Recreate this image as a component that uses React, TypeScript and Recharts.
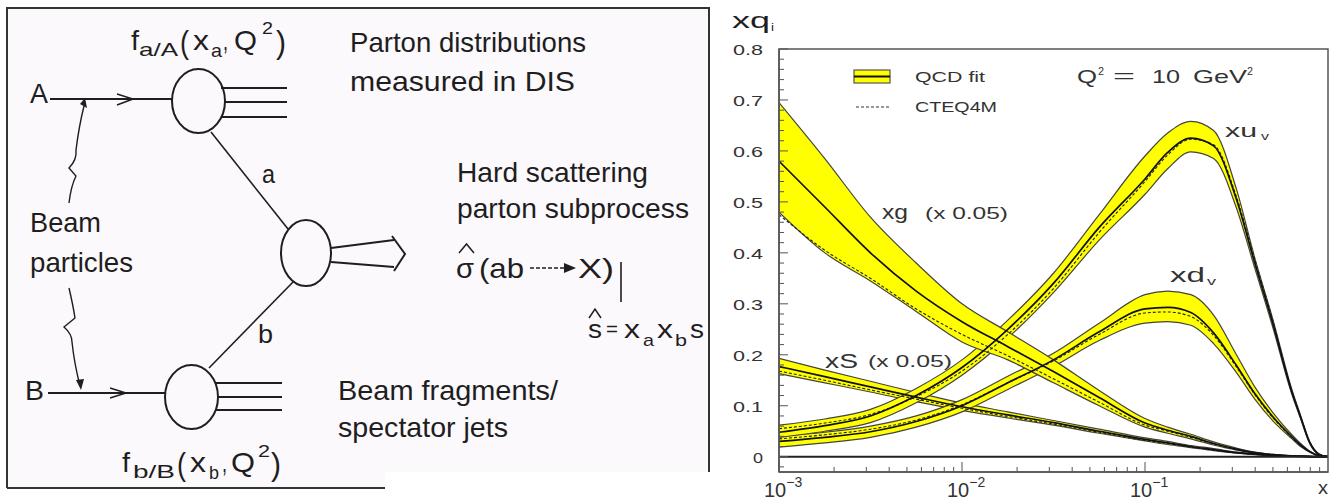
import React from "react";
import {
  ComposedChart,
  Area,
  Line,
  XAxis,
  YAxis,
  ReferenceLine,
  Legend,
} from "recharts";

const FONT = '"Liberation Sans", Arial, Helvetica, sans-serif';
const INK = "#1e1e1e";
const AXIS = "#555";
const YELLOW = "#ffff00";

// x samples (log axis), denser around the valence peaks
const xValues = [
  0.001, 0.00178, 0.00316, 0.00562, 0.01, 0.0178, 0.0316, 0.0562, 0.1, 0.133,
  0.178, 0.237, 0.316, 0.398, 0.501, 0.631, 0.708, 0.794, 0.891, 1,
];

// gluon, xg (x 0.05)
const xgHigh = [0.695, 0.585, 0.47, 0.38, 0.3, 0.245, 0.19, 0.13, 0.075, 0.058, 0.044, 0.029, 0.017, 0.009, 0.0045, 0.002, 0.001, 0.0005, 0, 0];
const xgFit = [0.58, 0.49, 0.4, 0.325, 0.265, 0.216, 0.167, 0.116, 0.066, 0.052, 0.04, 0.026, 0.015, 0.008, 0.004, 0.0015, 0.001, 0.0005, 0, 0];
const xgLow = [0.48, 0.4, 0.345, 0.285, 0.225, 0.19, 0.145, 0.1, 0.058, 0.046, 0.035, 0.023, 0.013, 0.007, 0.0035, 0.001, 0.0008, 0.0004, 0, 0];
const xgCteq = [0.475, 0.405, 0.35, 0.29, 0.24, 0.198, 0.153, 0.107, 0.062, 0.05, 0.038, 0.025, 0.014, 0.008, 0.004, 0.0015, 0.001, 0.0005, 0, 0];

// sea, xS (x 0.05)
const xsHigh = [0.193, 0.17, 0.148, 0.126, 0.105, 0.088, 0.071, 0.054, 0.037, 0.03, 0.022, 0.016, 0.009, 0.006, 0.003, 0.0012, 0.0006, 0.0003, 0, 0];
const xsFit = [0.177, 0.157, 0.137, 0.117, 0.098, 0.082, 0.067, 0.05, 0.034, 0.027, 0.02, 0.014, 0.008, 0.005, 0.0025, 0.001, 0.0005, 0.0002, 0, 0];
const xsLow = [0.163, 0.145, 0.127, 0.108, 0.091, 0.076, 0.062, 0.046, 0.031, 0.024, 0.018, 0.012, 0.007, 0.004, 0.002, 0.0008, 0.0004, 0.0002, 0, 0];
const xsCteq = [0.168, 0.15, 0.131, 0.113, 0.095, 0.079, 0.064, 0.048, 0.032, 0.026, 0.019, 0.013, 0.0075, 0.0045, 0.002, 0.001, 0.0005, 0.0002, 0, 0];

// valence up, xu_v
const xuvHigh = [0.062, 0.074, 0.093, 0.134, 0.19, 0.268, 0.36, 0.475, 0.59, 0.635, 0.658, 0.64, 0.525, 0.39, 0.268, 0.135, 0.081, 0.03, 0.006, 0];
const xuvFit = [0.048, 0.061, 0.08, 0.12, 0.175, 0.25, 0.34, 0.45, 0.545, 0.597, 0.625, 0.61, 0.505, 0.38, 0.26, 0.13, 0.078, 0.028, 0.005, 0];
const xuvLow = [0.038, 0.05, 0.067, 0.106, 0.16, 0.233, 0.322, 0.425, 0.515, 0.565, 0.598, 0.585, 0.488, 0.37, 0.252, 0.125, 0.075, 0.026, 0.004, 0];
const xuvCteq = [0.055, 0.066, 0.083, 0.118, 0.168, 0.24, 0.33, 0.44, 0.54, 0.592, 0.623, 0.612, 0.51, 0.387, 0.265, 0.132, 0.079, 0.029, 0.005, 0];

// valence down, xd_v
const xdvHigh = [0.04, 0.048, 0.06, 0.08, 0.112, 0.158, 0.203, 0.262, 0.318, 0.325, 0.318, 0.278, 0.2, 0.137, 0.086, 0.044, 0.026, 0.011, 0.0025, 0];
const xdvFit = [0.03, 0.038, 0.049, 0.069, 0.1, 0.145, 0.19, 0.245, 0.29, 0.293, 0.283, 0.243, 0.179, 0.124, 0.078, 0.04, 0.023, 0.01, 0.002, 0];
const xdvLow = [0.019, 0.027, 0.038, 0.058, 0.088, 0.132, 0.177, 0.228, 0.262, 0.265, 0.258, 0.222, 0.165, 0.113, 0.07, 0.036, 0.02, 0.009, 0.0015, 0];
const xdvCteq = [0.035, 0.043, 0.054, 0.072, 0.102, 0.145, 0.188, 0.24, 0.282, 0.284, 0.275, 0.238, 0.176, 0.122, 0.076, 0.039, 0.022, 0.01, 0.002, 0];

const xTicks = [
  0.001, 0.002, 0.003, 0.004, 0.005, 0.006, 0.007, 0.008, 0.009,
  0.01, 0.02, 0.03, 0.04, 0.05, 0.06, 0.07, 0.08, 0.09,
  0.1, 0.2, 0.3, 0.4, 0.5, 0.6, 0.7, 0.8, 0.9,
];
const yTicks = [
  -0.02, 0, 0.02, 0.04, 0.06, 0.08, 0.1, 0.12, 0.14, 0.16, 0.18, 0.2, 0.22,
  0.24, 0.26, 0.28, 0.3, 0.32, 0.34, 0.36, 0.38, 0.4, 0.42, 0.44, 0.46, 0.48,
  0.5, 0.52, 0.54, 0.56, 0.58, 0.6, 0.62, 0.64, 0.66, 0.68, 0.7, 0.72, 0.74,
  0.76, 0.78, 0.8,
];
const X_MIN = 0.001;
const X_MAX = 1;
const Y_MIN = -0.03;
const Y_MAX = 0.8;

const rows = xValues.map((x, i) => ({
  x,
  xgBand: [xgLow[i], xgHigh[i]],
  xgFit: xgFit[i],
  xgCteq: xgCteq[i],
  xsBand: [xsLow[i], xsHigh[i]],
  xsFit: xsFit[i],
  xsCteq: xsCteq[i],
  xuvBand: [xuvLow[i], xuvHigh[i]],
  xuvFit: xuvFit[i],
  xuvCteq: xuvCteq[i],
  xdvBand: [xdvLow[i], xdvHigh[i]],
  xdvFit: xdvFit[i],
  xdvCteq: xdvCteq[i],
}));

const bands = ["xsBand", "xdvBand", "xuvBand", "xgBand"];
const fits = ["xsFit", "xdvFit", "xuvFit", "xgFit"];
const cteqs = ["xsCteq", "xdvCteq", "xuvCteq", "xgCteq"];

// chart box on the page
const CHART_LEFT = 700;
const CHART_W = 633;
const CHART_H = 500;
const MARGIN = { top: 49, right: 5, bottom: 0, left: 0 };
const Y_AXIS_W = 79;
const X_AXIS_H = 28;

const frameLine = { stroke: AXIS, strokeWidth: 1.5 };

// plain string stretched to a measured width
function Txt({ x, y, size, len, fill = INK, children }: any) {
  return (
    <text
      x={x}
      y={y}
      fontSize={size}
      fill={fill}
      fontFamily={FONT}
      textLength={len}
      lengthAdjust="spacingAndGlyphs"
    >
      {children}
    </text>
  );
}

const YTick = (props: any) => {
  const { x, y, payload } = props;
  const v = payload.value;
  const major = Math.abs(v * 10 - Math.round(v * 10)) < 1e-6;
  const label = v === 0 ? "0" : v.toFixed(1);
  return (
    <g>
      <line x1={x} x2={x + (major ? 9 : 5)} y1={y} y2={y} stroke={AXIS} strokeWidth={1} />
      {major && (
        <Txt x={v === 0 ? x - 26 : x - 46} y={y + 6} size={15} len={v === 0 ? 10 : 30} fill="#333">
          {label}
        </Txt>
      )}
    </g>
  );
};

const XTick = (props: any) => {
  const { x, y, payload } = props;
  const v = payload.value;
  const e = Math.log10(v);
  const major = Math.abs(e - Math.round(e)) < 1e-6;
  return (
    <g>
      <line x1={x} x2={x} y1={y} y2={y - (major ? 10 : 5)} stroke={AXIS} strokeWidth={1} />
      {major && (
        <text x={x - 15} y={y + 25} fontSize={20} fill="#333" fontFamily={FONT}>
          10
          <tspan fontSize={14} dy={-10}>
            {"\u2212" + Math.round(-e)}
          </tspan>
        </text>
      )}
    </g>
  );
};

const renderLegend = () => (
  <svg width={170} height={52} style={{ display: "block" }}>
    <rect x={4} y={4} width={36} height={13} fill={YELLOW} stroke={AXIS} strokeWidth={1.2} />
    <line x1={4} x2={40} y1={10.5} y2={10.5} stroke="#111" strokeWidth={2} />
    <Txt x={65} y={16} size={14} len={70} fill="#333">QCD fit</Txt>
    <line x1={6} x2={40} y1={41} y2={41} stroke="#333" strokeWidth={1} strokeDasharray="3 2" />
    <Txt x={65} y={46} size={14} len={82} fill="#333">CTEQ4M</Txt>
  </svg>
);

function Diagram() {
  const line = { stroke: INK, strokeWidth: 2, fill: "none" };
  return (
    <g>
      <path d="M7 8 H709 V472 H385 V488 H7 Z" fill="#fcf9fc" />
      <path d="M7 488 L7 8 L709 8 L709 472" stroke="#333" strokeWidth={2} fill="none" />
      <line x1={7} x2={385} y1={488} y2={488} stroke="#333" strokeWidth={2} />

      {/* beams and arrows */}
      <line x1={50} x2={172} y1={99} y2={99} {...line} />
      <path d="M117 94 L133 99 L117 105" {...line} strokeWidth={1.5} />
      <line x1={48} x2={165} y1={393} y2={393} {...line} />
      <path d="M110 388 L126 393 L110 398" {...line} strokeWidth={1.5} />

      {/* blobs */}
      <ellipse cx={198.5} cy={101} rx={26.5} ry={32} {...line} />
      <ellipse cx={306} cy={253} rx={25} ry={33} {...line} />
      <ellipse cx={191.5} cy={397} rx={26.5} ry={32} {...line} />

      {/* spectators */}
      <line x1={221} x2={287} y1={88} y2={88} {...line} />
      <line x1={225} x2={287} y1={102} y2={102} {...line} />
      <line x1={221} x2={287} y1={117} y2={117} {...line} />
      <line x1={216} x2={282} y1={383} y2={383} {...line} />
      <line x1={218} x2={282} y1={397} y2={397} {...line} />
      <line x1={216} x2={282} y1={410} y2={410} {...line} />

      {/* partons */}
      <line x1={211} y1={132} x2={288} y2={229} {...line} strokeWidth={1.6} />
      <line x1={294} y1={281} x2={209} y2={368} {...line} strokeWidth={1.6} />

      {/* outgoing X */}
      <line x1={331} y1={248} x2={394} y2={240} {...line} />
      <line x1={331} y1={262} x2={394} y2={267} {...line} />
      <path d="M392 236 L405 254 L394 271" {...line} />

      {/* wavy pointers */}
      <path d="M69 203 Q71 186 76 176 L69 168 Q77 160 76 150 Q79 126 84 106" {...line} strokeWidth={1.4} />
      <path d="M80 104 L85 98 L87 108 Z" fill={INK} />
      <path d="M69 288 Q73 305 75 318 L64 327 Q72 334 72 342 Q74 362 80 386" {...line} strokeWidth={1.4} />
      <path d="M76 380 L81 390 L84 379 Z" fill={INK} />

      {/* labels */}
      <Txt x={30} y={103} size={27} len={18}>A</Txt>
      <Txt x={25} y={400} size={27} len={19}>B</Txt>
      <Txt x={30} y={232} size={28} len={71}>Beam</Txt>
      <Txt x={30} y={272} size={28} len={103}>particles</Txt>
      <Txt x={262} y={183} size={26} len={13}>a</Txt>
      <Txt x={258} y={343} size={26} len={15}>b</Txt>

      <Txt x={350} y={52} size={28} len={236}>Parton distributions</Txt>
      <Txt x={350} y={91} size={28} len={225}>measured in DIS</Txt>
      <Txt x={457} y={182} size={28} len={191}>Hard scattering</Txt>
      <Txt x={457} y={218} size={28} len={232}>parton subprocess</Txt>
      <Txt x={338} y={400} size={28} len={220}>Beam fragments/</Txt>
      <Txt x={338} y={437} size={28} len={170}>spectator jets</Txt>

      {/* f_a/A(x_a, Q^2) */}
      <Txt x={131} y={50} size={28} len={8}>f</Txt>
      <Txt x={139} y={56} size={19} len={39}>a/A</Txt>
      <Txt x={180} y={53} size={32} len={9}>(</Txt>
      <Txt x={193} y={50} size={28} len={16}>x</Txt>
      <Txt x={211} y={57} size={19} len={11}>a</Txt>
      <Txt x={223} y={50} size={28} len={5}>,</Txt>
      <Txt x={234} y={50} size={28} len={23}>Q</Txt>
      <Txt x={262} y={34} size={17} len={11}>2</Txt>
      <Txt x={276} y={53} size={32} len={10}>)</Txt>

      {/* f_b/B(x_b, Q^2) */}
      <Txt x={122} y={472} size={28} len={8}>f</Txt>
      <Txt x={133} y={478} size={19} len={42}>b/B</Txt>
      <Txt x={177} y={475} size={32} len={9}>(</Txt>
      <Txt x={190} y={472} size={28} len={16}>x</Txt>
      <Txt x={209} y={479} size={19} len={10}>b</Txt>
      <Txt x={222} y={472} size={28} len={5}>,</Txt>
      <Txt x={231} y={472} size={28} len={24}>Q</Txt>
      <Txt x={258} y={457} size={17} len={12}>2</Txt>
      <Txt x={271} y={475} size={32} len={10}>)</Txt>

      {/* sigma-hat (ab -> X) */}
      <Txt x={456} y={278} size={28} len={18}>σ</Txt>
      <Txt x={479} y={278} size={28} len={45}>(ab</Txt>
      <Txt x={578} y={278} size={28} len={36}>X)</Txt>
      <path d="M459 253 L466.5 244 L474 253" {...line} strokeWidth={1.5} />
      <line x1={530} x2={566} y1={268} y2={268} stroke={INK} strokeWidth={1.6} strokeDasharray="4 2" />
      <path d="M564 263 L576 268 L564 273 Z" fill={INK} />
      <line x1={621} x2={621} y1={262} y2={302} stroke={INK} strokeWidth={1.6} />

      {/* s-hat = xa xb s */}
      <Txt x={588} y={338} size={26} len={14}>s</Txt>
      <Txt x={606} y={336} size={20} len={12}>=</Txt>
      <Txt x={624} y={338} size={26} len={16}>x</Txt>
      <Txt x={643} y={346} size={17} len={11}>a</Txt>
      <Txt x={657} y={338} size={26} len={16}>x</Txt>
      <Txt x={675} y={346} size={17} len={12}>b</Txt>
      <Txt x={690} y={338} size={26} len={14}>s</Txt>
      <path d="M589 318 L595 309 L601 318" {...line} strokeWidth={1.5} />
    </g>
  );
}

function Annotations() {
  // plot-area box, same numbers the chart gets
  const left = CHART_LEFT + MARGIN.left + Y_AXIS_W;
  const top = MARGIN.top;
  const w = CHART_W - MARGIN.left - MARGIN.right - Y_AXIS_W;
  const h = CHART_H - MARGIN.top - MARGIN.bottom - X_AXIS_H;
  return (
    <g>
      <rect x={left} y={top} width={w} height={h} fill="none" stroke={AXIS} strokeWidth={1.5} />

      <Txt x={732} y={28} size={22} len={38}>xq</Txt>
      <Txt x={771} y={31} size={10} len={3}>i</Txt>

      <Txt x={1077} y={83} size={19} len={20} fill="#333">Q</Txt>
      <Txt x={1098} y={75} size={11} len={6} fill="#333">2</Txt>
      <Txt x={1113} y={82} size={19} len={22} fill="#333">=</Txt>
      <Txt x={1152} y={83} size={19} len={28} fill="#333">10</Txt>
      <Txt x={1193} y={83} size={19} len={54} fill="#333">GeV</Txt>
      <Txt x={1247} y={75} size={11} len={6} fill="#333">2</Txt>

      <Txt x={882} y={219} size={21} len={26} fill="#333">xg</Txt>
      <Txt x={925} y={219} size={16} len={83} fill="#333">(x 0.05)</Txt>
      <Txt x={825} y={368} size={21} len={33} fill="#333">xS</Txt>
      <Txt x={868} y={367} size={16} len={84} fill="#333">(x 0.05)</Txt>

      <Txt x={1225} y={137} size={19} len={32} fill="#333">xu</Txt>
      <Txt x={1261} y={140} size={11} len={8} fill="#333">v</Txt>
      <Txt x={1170} y={282} size={20} len={35} fill="#333">xd</Txt>
      <Txt x={1207} y={285} size={11} len={9} fill="#333">v</Txt>

      <Txt x={1318} y={494} size={18} len={10} fill="#333">x</Txt>
    </g>
  );
}

export default function App() {
  return (
    <div
      style={{
        position: "absolute",
        left: 0,
        top: 0,
        width: 1333,
        height: 500,
        background: "#fff",
        fontFamily: FONT,
        overflow: "hidden",
      }}
    >
      <div style={{ position: "absolute", left: CHART_LEFT, top: 0 }}>
        <ComposedChart width={CHART_W} height={CHART_H} data={rows} margin={MARGIN}>
          <XAxis
            dataKey="x"
            type="number"
            scale="log"
            domain={[X_MIN, X_MAX]}
            allowDataOverflow
            ticks={xTicks}
            interval={0}
            tick={<XTick />}
            tickSize={0}
            tickMargin={0}
            tickLine={false}
            axisLine={frameLine}
            height={X_AXIS_H}
          />
          <YAxis
            type="number"
            domain={[Y_MIN, Y_MAX]}
            allowDataOverflow
            ticks={yTicks}
            interval={0}
            tick={<YTick />}
            tickSize={0}
            tickMargin={0}
            tickLine={false}
            axisLine={frameLine}
            width={Y_AXIS_W}
          />

          {bands.map((k) => (
            <Area
              key={k}
              dataKey={k}
              type="monotone"
              fill={YELLOW}
              fillOpacity={1}
              stroke="#444"
              strokeWidth={1.2}
              dot={false}
              activeDot={false}
              isAnimationActive={false}
            />
          ))}
          {cteqs.map((k) => (
            <Line
              key={k}
              dataKey={k}
              type="monotone"
              stroke="#222"
              strokeWidth={1.1}
              strokeDasharray="3 2"
              dot={false}
              activeDot={false}
              isAnimationActive={false}
            />
          ))}
          {fits.map((k) => (
            <Line
              key={k}
              dataKey={k}
              type="monotone"
              stroke="#111"
              strokeWidth={1.7}
              dot={false}
              activeDot={false}
              isAnimationActive={false}
            />
          ))}

          <ReferenceLine y={0} stroke="#222" strokeWidth={2} />
          <Legend
            layout="vertical"
            align="center"
            verticalAlign="middle"
            content={renderLegend}
            wrapperStyle={{ left: 150, top: 66, width: 170, height: 52 }}
          />
        </ComposedChart>
      </div>
      <svg
        width={1333}
        height={500}
        style={{ position: "absolute", left: 0, top: 0, pointerEvents: "none" }}
      >
        <Diagram />
        <Annotations />
      </svg>
    </div>
  );
}
